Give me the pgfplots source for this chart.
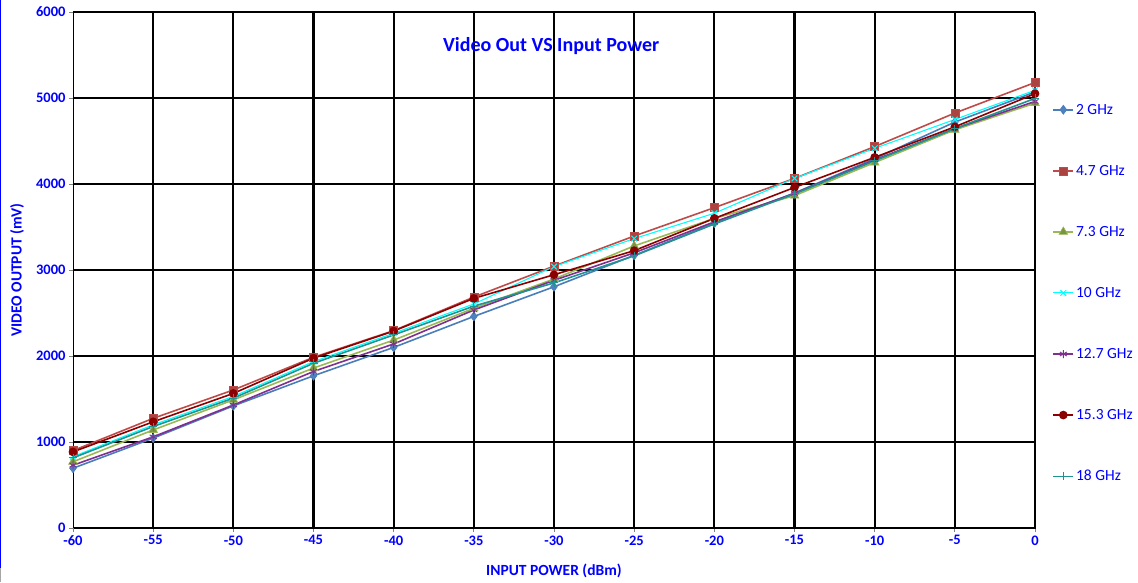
\documentclass[border=0pt]{standalone}
\usepackage{pgfplots}
\pgfplotsset{compat=1.18}
\usepackage{fontspec}
\setmainfont{Carlito}
\definecolor{cBlue}{HTML}{4A7EBB}
\definecolor{cBlueF}{HTML}{4F81BD}
\definecolor{cRed}{HTML}{BE4B48}
\definecolor{cGreen}{HTML}{98B954}
\definecolor{cCyan}{HTML}{00FFFF}
\definecolor{cPurple}{HTML}{7F2F8F}
\definecolor{cDRed}{HTML}{8B0000}
\definecolor{tealline}{RGB}{32,146,146}
\definecolor{txtblue}{HTML}{0000FF}
\begin{document}
\begin{tikzpicture}
\useasboundingbox (-73pt,-54pt) rectangle (1065pt,528pt);
\draw[txtblue, line width=1.4pt] (-72.3pt,528pt) -- (-72.3pt,-40pt);
\draw[gray!70, line width=0.8pt] (-72.3pt,-40pt) -- (-72.3pt,-54pt);
\begin{axis}[
  scale only axis, width=962pt, height=516pt,
  xmin=-60, xmax=0, ymin=0, ymax=6000,
  xtick={-55,-50,...,0}, extra x ticks={-60}, extra x tick style={grid=none},
  ytick={0,1000,...,6000},
  xmajorgrids, ymajorgrids,
  major grid style={black, line width=2.2pt},
  axis line style={black, line width=0.8pt},
  tick align=outside, major tick length=4pt,
  tick style={gray, line width=0.8pt},
  xtick pos=bottom, ytick pos=left,
  /pgf/number format/assume math mode=true,
  /pgf/number format/1000 sep={},
  ticklabel style={font=\fontsize{14.5}{16}\selectfont\bfseries, text=txtblue},
  xlabel={INPUT POWER (dBm)}, ylabel={VIDEO OUTPUT (mV)},
  label style={font=\fontsize{15.5}{17}\selectfont\bfseries, text=txtblue},
  xlabel style={at={(axis description cs:0.5,-0.0833)}, anchor=center},
  ylabel style={at={(axis description cs:-0.0582,0.5)}, anchor=center},
  title={Video Out VS Input Power},
  title style={at={(axis description cs:0.497,0.922)}, anchor=center, font=\fontsize{20}{22}\selectfont\bfseries, text=txtblue},
  legend style={at={(axis description cs:1.018,0.826)}, anchor=north west, draw=none, fill=none,
    font=\fontsize{15.5}{17}\selectfont, text=txtblue, row sep=45.5pt, inner sep=0pt},
  legend cell align=left,
  legend image code/.code={\draw[#1] (0pt,0pt) -- (20pt,0pt); \draw[#1, mark repeat=1, mark phase=1] plot coordinates {(10pt,0pt)};},
  every axis plot/.append style={line width=1.6pt},
]
\addplot[cBlue, mark=diamond*, mark size=4.5pt, mark options={fill=cBlueF, draw=cBlue, line width=0.6pt}] coordinates {
(-60,695) (-55,1045) (-50,1420) (-45,1770) (-40,2100) (-35,2460) (-30,2805) (-25,3170) (-20,3545) (-15,3895) (-10,4295) (-5,4720) (0,5070)};
\addlegendentry{2 GHz}
\addplot[cRed, mark=square*, mark size=4pt, mark options={fill=cRed!90!black, draw=cRed, line width=0.6pt}] coordinates {
(-60,900) (-55,1275) (-50,1605) (-45,1985) (-40,2295) (-35,2685) (-30,3045) (-25,3395) (-20,3725) (-15,4065) (-10,4435) (-5,4825) (0,5180)};
\addlegendentry{4.7 GHz}
\addplot[cGreen, mark=triangle*, mark size=5pt, mark options={fill=cGreen!80!black, draw=cGreen, line width=0.6pt}] coordinates {
(-60,770) (-55,1140) (-50,1490) (-45,1860) (-40,2185) (-35,2555) (-30,2895) (-25,3280) (-20,3600) (-15,3865) (-10,4250) (-5,4630) (0,4940)};
\addlegendentry{7.3 GHz}
\addplot[cCyan, line width=1.1pt, mark=x, mark size=4pt, mark options={line width=1pt}] coordinates {
(-60,830) (-55,1200) (-50,1530) (-45,1935) (-40,2265) (-35,2605) (-30,3040) (-25,3365) (-20,3660) (-15,4065) (-10,4415) (-5,4750) (0,5090)};
\addlegendentry{10 GHz}
\addplot[cPurple, mark=asterisk, mark size=4pt, mark options={line width=0.9pt}] coordinates {
(-60,730) (-55,1060) (-50,1430) (-45,1820) (-40,2140) (-35,2535) (-30,2880) (-25,3200) (-20,3560) (-15,3890) (-10,4280) (-5,4645) (0,4960)};
\addlegendentry{12.7 GHz}
\addplot[cDRed, mark=*, mark size=3.5pt, mark options={fill=cDRed}] coordinates {
(-60,885) (-55,1235) (-50,1565) (-45,1975) (-40,2290) (-35,2670) (-30,2945) (-25,3225) (-20,3600) (-15,3960) (-10,4310) (-5,4665) (0,5050)};
\addlegendentry{15.3 GHz}
\addplot[color=tealline, mark=+, mark size=4pt, mark options={line width=0.9pt}] coordinates {
(-60,815) (-55,1180) (-50,1510) (-45,1915) (-40,2245) (-35,2580) (-30,2850) (-25,3165) (-20,3535) (-15,3885) (-10,4270) (-5,4645) (0,4995)};
\addlegendentry{18 GHz}
\end{axis}
\end{tikzpicture}
\end{document}
